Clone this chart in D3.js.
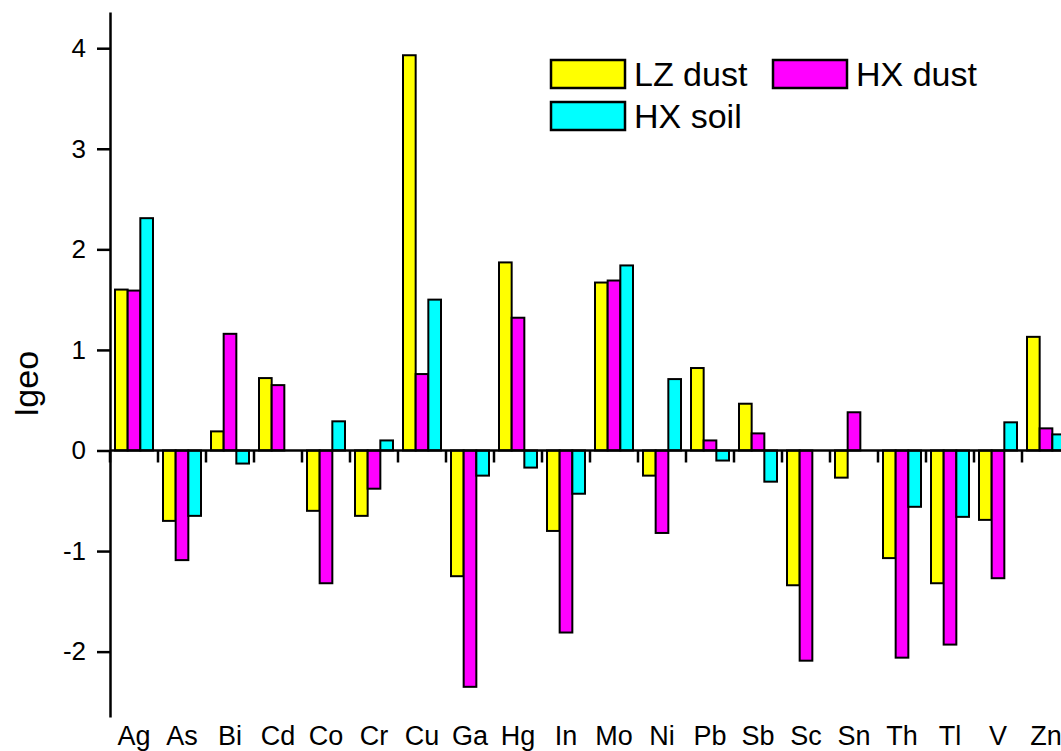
<!DOCTYPE html>
<html>
<head>
<meta charset="utf-8">
<script src="https://cdn.jsdelivr.net/npm/d3@7"></script>
<style>
  body { margin: 0; background: #fff; }
  text { font-family: Arial, "Liberation Sans", sans-serif; fill: #000; }
</style>
</head>
<body>
<svg id="chart" width="1061" height="751"></svg>
<script>
const elements = ["Ag","As","Bi","Cd","Co","Cr","Cu","Ga","Hg","In","Mo","Ni","Pb","Sb","Sc","Sn","Th","Tl","V","Zn"];
const seriesNames = ["LZ dust", "HX dust", "HX soil"];
const lzDust = [1.60, -0.70, 0.19, 0.72, -0.60, -0.65, 3.93, -1.25, 1.87, -0.80, 1.67, -0.25, 0.82, 0.465, -1.34, -0.27, -1.07, -1.32, -0.69, 1.13];
const hxDust = [1.59, -1.09, 1.16, 0.65, -1.32, -0.38, 0.76, -2.35, 1.32, -1.81, 1.69, -0.82, 0.10, 0.17, -2.09, 0.38, -2.06, -1.93, -1.27, 0.22];
const hxSoil = [2.31, -0.65, -0.13, 0, 0.29, 0.10, 1.50, -0.25, -0.17, -0.43, 1.84, 0.71, -0.10, -0.31, 0, 0, -0.56, -0.66, 0.28, 0.16];
const yTicks = [-2, -1, 0, 1, 2, 3, 4];

const colors = {"LZ dust": "#ffff00", "HX dust": "#ff00ff", "HX soil": "#00ffff"};
const seriesVals = {"LZ dust": lzDust, "HX dust": hxDust, "HX soil": hxSoil};

const svg = d3.select("#chart");
const axisX = 110;

const x = d3.scaleBand().domain(elements).range([axisX, axisX + 48 * elements.length]).padding(0);
const xs = d3.scaleBand().domain(seriesNames).range([5, x.bandwidth() - 5]).padding(0);
const y = d3.scaleLinear().domain([-2.65, 4.36]).range([717, 12]);

// bars
const rows = [];
elements.forEach((el, i) => {
  seriesNames.forEach(s => rows.push({el, s, v: seriesVals[s][i]}));
});

svg.append("g").selectAll("rect")
  .data(rows)
  .enter()
  .append("rect")
  .attr("x", d => x(d.el) + xs(d.s))
  .attr("width", xs.bandwidth())
  .attr("y", d => y(Math.max(0, d.v)))
  .attr("height", d => Math.abs(y(d.v) - y(0)))
  .attr("fill", d => colors[d.s])
  .attr("stroke", "#000")
  .attr("stroke-width", 2);

// zero line with group separator ticks
svg.append("line")
  .attr("x1", axisX).attr("x2", 1070)
  .attr("y1", y(0)).attr("y2", y(0))
  .attr("stroke", "#000").attr("stroke-width", 2.5);

svg.append("g").selectAll("line")
  .data(elements)
  .enter()
  .append("line")
  .attr("x1", d => x(d)).attr("x2", d => x(d))
  .attr("y1", y(0)).attr("y2", y(0) + 12)
  .attr("stroke", "#000").attr("stroke-width", 2.5);

// y axis
const yAxis = svg.append("g")
  .attr("transform", `translate(${axisX},0)`)
  .call(d3.axisLeft(y).tickValues(yTicks).tickFormat(d => String(d))
    .tickSizeInner(13).tickSizeOuter(0).tickPadding(11));
yAxis.select(".domain").attr("stroke-width", 2.5);
yAxis.selectAll(".tick line").attr("stroke-width", 2.5);
yAxis.selectAll("text").style("font-size", "26px").attr("fill", "#000");

// x labels
const xAxis = svg.append("g")
  .attr("transform", "translate(0,719)")
  .call(d3.axisBottom(x).tickSize(0).tickPadding(7));
xAxis.select(".domain").remove();
xAxis.selectAll("text").style("font-size", "27px").attr("fill", "#000");

// y title
svg.append("text")
  .attr("transform", "translate(38,384) rotate(-90)")
  .attr("text-anchor", "middle")
  .style("font-size", "34px")
  .text("Igeo");

// legend
const legendItems = [
  {name: "LZ dust", x: 551, y: 60},
  {name: "HX dust", x: 773, y: 60},
  {name: "HX soil", x: 551, y: 102}
];
const lg = svg.append("g").selectAll("g")
  .data(legendItems)
  .enter()
  .append("g")
  .attr("transform", d => `translate(${d.x},${d.y})`);
lg.append("rect")
  .attr("width", 74).attr("height", 28)
  .attr("fill", d => colors[d.name])
  .attr("stroke", "#000").attr("stroke-width", 2.5);
lg.append("text")
  .attr("x", 83).attr("y", 26)
  .style("font-size", "34px")
  .text(d => d.name);
</script>
</body>
</html>
